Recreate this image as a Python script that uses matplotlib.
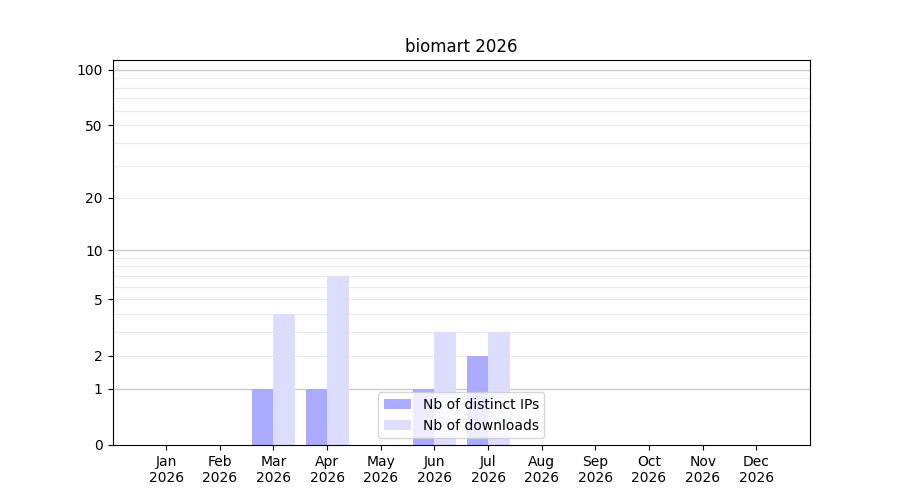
import numpy as np
import matplotlib
matplotlib.use('Agg')
import matplotlib.pyplot as plt

months = ['Jan', 'Feb', 'Mar', 'Apr', 'May', 'Jun',
          'Jul', 'Aug', 'Sep', 'Oct', 'Nov', 'Dec']
year = 2026
distinct_ips = [0, 0, 1, 1, 0, 1, 2, 0, 0, 0, 0, 0]
downloads = [0, 0, 4, 7, 0, 3, 3, 0, 0, 0, 0, 0]

y_ticks = [0, 1, 2, 5, 10, 20, 50, 100]
major_lines = [1, 10, 100]
minor_lines = [2, 3, 4, 5, 6, 7, 8, 9, 20, 30, 40, 50, 60, 70, 80, 90]


def fwd(v):
    return np.log10(np.maximum(v, 0) + 1)


def inv(v):
    return 10 ** v - 1


fig, ax = plt.subplots(figsize=(9, 5), dpi=100)

x = np.arange(len(months))
width = 0.4

for v in minor_lines:
    ax.axhline(v, color='#ebebeb', linewidth=0.8, zorder=0)
for v in major_lines:
    ax.axhline(v, color='#cccccc', linewidth=1.0, zorder=0)

ax.bar(x - width / 2, distinct_ips, width, color='#aaaaff',
       label='Nb of distinct IPs', zorder=2)
ax.bar(x + width / 2, downloads, width, color='#ddddff',
       label='Nb of downloads', zorder=2)

ax.set_yscale('function', functions=(fwd, inv))
ax.set_ylim(0, 113)
ax.set_yticks(y_ticks)
ax.set_yticklabels([str(t) for t in y_ticks])
ax.yaxis.set_minor_locator(matplotlib.ticker.NullLocator())

ax.set_xticks(x)
ax.set_xticklabels([f'{m}\n{year}' for m in months])
ax.set_xlim(-1, 12)

ax.set_title(f'biomart {year}')
ax.legend(loc='lower center')

fig.savefig('out.png', dpi=100)
